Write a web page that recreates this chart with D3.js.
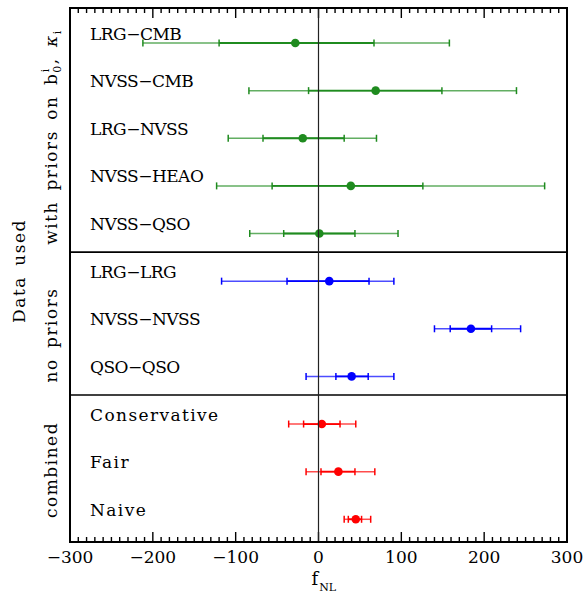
<!DOCTYPE html>
<html>
<head>
<meta charset="utf-8">
<script src="https://cdn.jsdelivr.net/npm/d3@7"></script>
<style>
  html, body { margin: 0; padding: 0; background: #fff; }
  svg { display: block; }
  text { font-family: "DejaVu Serif", "Liberation Serif", serif; fill: #000; }
</style>
</head>
<body>
<svg id="chart" width="583" height="598"></svg>
<script>
// f_NL constraints: best fit with 1-sigma and 2-sigma intervals for each data combination
const labels = ["LRG−CMB", "NVSS−CMB", "LRG−NVSS", "NVSS−HEAO", "NVSS−QSO",
                "LRG−LRG", "NVSS−NVSS", "QSO−QSO",
                "Conservative", "Fair", "Naive"];
const groups = ["priors", "priors", "priors", "priors", "priors",
                "none", "none", "none",
                "combined", "combined", "combined"];
const bestFit = [-28, 69, -19, 39, 1, 13, 184, 40, 4, 24, 45];
const lo1 = [-120, -12, -67, -56, -42, -38, 159, 21, -18, 3, 36];
const hi1 = [67, 149, 31, 126, 44, 61, 209, 60, 26, 44, 52];
const lo2 = [-212, -84, -109, -123, -83, -117, 140, -15, -36, -15, 31];
const hi2 = [158, 239, 70, 273, 96, 91, 244, 91, 45, 68, 63];
const groupColors = { priors: "#1f8b1f", none: "#0000ff", combined: "#ff0000" };
const xTicks = [-300, -200, -100, 0, 100, 200, 300];

const svg = d3.select("#chart");
const plotL = 70, plotR = 567, plotT = 8, plotB = 542;

const x = d3.scaleLinear().domain([-300, 300]).range([plotL, plotR]);
// one unit per data row; the group separators fall between rows 4|5 and 7|8
const y = d3.scaleLinear().domain([-0.735, 10.477]).range([plotT, plotB]);
const separators = [4.39, 7.39];

const rows = labels.map((l, i) => ({
  label: l, group: groups[i], v: bestFit[i],
  lo1: lo1[i], hi1: hi1[i], lo2: lo2[i], hi2: hi2[i], i
}));

// group separators
svg.selectAll("line.sep").data(separators).join("line")
  .attr("class", "sep")
  .attr("x1", plotL).attr("x2", plotR)
  .attr("y1", d => y(d)).attr("y2", d => y(d))
  .attr("stroke", "#000").attr("stroke-width", 1.6);

// minor / major ticks on top and bottom edges, pointing inward
const minor = d3.range(-300, 301, 10);
const tg = svg.append("g");
minor.forEach(v => {
  const major = v % 100 === 0;
  const len = major ? 10 : 5;
  tg.append("line").attr("x1", x(v)).attr("x2", x(v))
    .attr("y1", plotB).attr("y2", plotB - len)
    .attr("stroke", "#000").attr("stroke-width", 1.4);
  tg.append("line").attr("x1", x(v)).attr("x2", x(v))
    .attr("y1", plotT).attr("y2", plotT + len)
    .attr("stroke", "#000").attr("stroke-width", 1.4);
});

// bottom axis labels
svg.append("g").selectAll("text").data(xTicks).join("text")
  .attr("x", d => x(d)).attr("y", 563)
  .attr("text-anchor", "middle").attr("font-size", 17)
  .text(d => d < 0 ? "−" + Math.abs(d) : String(d));

// x-axis title f_NL
const xt = svg.append("text").attr("x", x(0) - 7).attr("y", 585).attr("font-size", 18);
xt.append("tspan").text("f");
xt.append("tspan").attr("font-size", 11).attr("dy", 6).attr("dx", 1).text("NL");

// error bars
const bars = svg.append("g").selectAll("g").data(rows).join("g")
  .attr("transform", d => `translate(0,${y(d.i)})`);
const cap = 3.5;

// outer (2-sigma) segments
bars.append("line")
  .attr("x1", d => x(d.lo2)).attr("x2", d => x(d.hi2))
  .attr("stroke", d => groupColors[d.group]).attr("stroke-width", 1.5)
  .attr("stroke-opacity", 0.7);
// inner (1-sigma) segment
bars.append("line")
  .attr("x1", d => x(d.lo1)).attr("x2", d => x(d.hi1))
  .attr("stroke", d => groupColors[d.group]).attr("stroke-width", 1.8);
// caps
bars.each(function(d) {
  const g = d3.select(this);
  [d.lo2, d.lo1, d.hi1, d.hi2].forEach(v => {
    g.append("line").attr("x1", x(v)).attr("x2", x(v))
      .attr("y1", -cap).attr("y2", cap)
      .attr("stroke", groupColors[d.group]).attr("stroke-width", 1.5);
  });
});
// best-fit points
bars.append("circle")
  .attr("cx", d => x(d.v)).attr("r", 4.3)
  .attr("fill", d => groupColors[d.group]);

// row labels (all-caps survey pairs set tighter than the mixed-case names)
bars.append("text")
  .attr("x", plotL + 20).attr("y", -3.5)
  .attr("font-size", 17)
  .attr("letter-spacing", d => /[a-z]/.test(d.label) ? 1.4 : -0.5)
  .text(d => d.label);

// zero line
svg.append("line").attr("x1", x(0)).attr("x2", x(0))
  .attr("y1", plotT).attr("y2", plotB)
  .attr("stroke", "#222").attr("stroke-width", 1.2);

// frame
svg.append("rect").attr("x", plotL).attr("y", plotT)
  .attr("width", plotR - plotL).attr("height", plotB - plotT)
  .attr("fill", "none").attr("stroke", "#000").attr("stroke-width", 2);

// rotated group titles
function vtext(cx, cy) {
  return svg.append("text")
    .attr("transform", `translate(${cx},${cy}) rotate(-90)`)
    .attr("text-anchor", "middle").attr("font-size", 17)
    .attr("letter-spacing", 1.5).attr("word-spacing", 3.5);
}
vtext(25, 271).text("Data used");
const wp = vtext(57, 137);
wp.append("tspan").text("with priors on b");
wp.append("tspan").attr("font-size", 11).attr("dy", 4).text("0");
wp.append("tspan").attr("font-size", 11).attr("dx", -8).attr("dy", -12).text("i");
wp.append("tspan").attr("dy", 8).attr("dx", 3).text(", ");
wp.append("tspan").attr("font-style", "italic").text("κ");
wp.append("tspan").attr("font-size", 11).attr("dy", 4).text("i");
vtext(57, 335).text("no priors");
vtext(57, 470).text("combined");
</script>
</body>
</html>
